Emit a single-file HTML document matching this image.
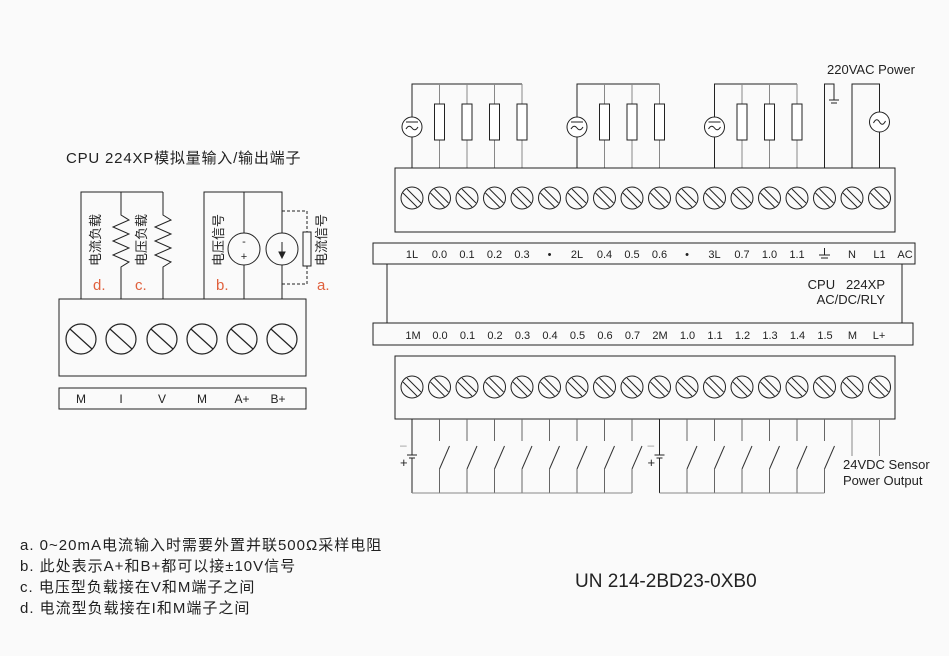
<!DOCTYPE html>
<html><head><meta charset="utf-8"><style>
html,body{margin:0;padding:0;background:#fafafa;}
svg{display:block;}
text{font-family:"Liberation Sans","Noto Sans CJK SC",sans-serif;fill:#222;}
</style></head><body>
<svg width="949" height="656" viewBox="0 0 949 656" xmlns="http://www.w3.org/2000/svg">
<defs>
<g id="sc"><circle r="11" fill="none" stroke="#222" stroke-width="1"/><line x1="-9" y1="-5" x2="5" y2="9" stroke="#222"/><line x1="-5" y1="-9" x2="9" y2="5" stroke="#222"/></g>
<g id="bsc"><circle r="15" fill="none" stroke="#222" stroke-width="1.2"/><line x1="-11" y1="-10" x2="11" y2="10" stroke="#222" stroke-width="1.2"/></g>
<g id="lamp"><circle r="10" fill="#fff" stroke="#222"/><line x1="-6" y1="-5" x2="6" y2="-5" stroke="#222"/><path d="M-6 2 Q-3 -3 0 1 Q3 5 6 0" fill="none" stroke="#222"/></g>
<g id="sw"><line x1="0" y1="0" x2="0" y2="22" stroke="#666"/><line x1="0" y1="50" x2="10" y2="27" stroke="#333"/><line x1="0" y1="50" x2="0" y2="74" stroke="#666"/></g>
<g id="bat"><line x1="0" y1="0" x2="0" y2="36" stroke="#222"/><line x1="-5" y1="36" x2="5" y2="36" stroke="#222"/><line x1="-3" y1="39" x2="3" y2="39" stroke="#222"/><line x1="0" y1="39" x2="0" y2="74" stroke="#222"/><text x="-12" y="30" font-size="12" style="fill:#999">–</text><text x="-12" y="48" font-size="13">+</text></g>
</defs>

<!-- LEFT analog diagram -->
<text x="66" y="163" font-size="15" letter-spacing="0.8">CPU 224XP模拟量输入/输出端子</text>
<g stroke="#222" fill="none" stroke-width="1">
<polyline points="81,299 81,192 163,192"/>
<polyline points="121,192 121,215 129,220 113,227 129,234 113,241 129,248 113,255 129,262 121,267 121,299"/>
<polyline points="163,192 163,215 171,220 155,227 171,234 155,241 171,248 155,255 171,262 163,267 163,299"/>
<polyline points="204,299 204,192 282,192 282,233"/>
<line x1="244" y1="192" x2="244" y2="233"/><line x1="244" y1="265" x2="244" y2="299"/>
<circle cx="244" cy="249" r="16"/><circle cx="282" cy="249" r="16"/>
<line x1="282" y1="265" x2="282" y2="299"/>
<line x1="282" y1="242" x2="282" y2="256"/><path d="M279 252 L282 258 L285 252 Z" fill="#222"/>
<polyline points="282,211 307,211 307,232" stroke-dasharray="3,2"/>
<polyline points="307,266 307,284 282,284" stroke-dasharray="3,2"/>
<rect x="303" y="232" width="8" height="34"/>
<rect x="59" y="299" width="247" height="77"/>
<rect x="59" y="388" width="247" height="21"/>
</g>
<text x="244" y="245" font-size="11" text-anchor="middle">-</text>
<text x="244" y="260" font-size="11" text-anchor="middle">+</text>
<g font-size="13">
<text transform="translate(100,266) rotate(-90)">电流负载</text>
<text transform="translate(146,266) rotate(-90)">电压负载</text>
<text transform="translate(223,266) rotate(-90)">电压信号</text>
<text transform="translate(326,266) rotate(-90)">电流信号</text>
</g>
<g font-size="15">
<text x="93" y="290" style="fill:#e0603c">d.</text><text x="135" y="290" style="fill:#e0603c">c.</text>
<text x="216" y="290" style="fill:#e0603c">b.</text><text x="317" y="290" style="fill:#e0603c">a.</text>
</g>
<use href="#bsc" x="81" y="339"/><use href="#bsc" x="121" y="339"/><use href="#bsc" x="162" y="339"/>
<use href="#bsc" x="202" y="339"/><use href="#bsc" x="242" y="339"/><use href="#bsc" x="282" y="339"/>
<g font-size="12" text-anchor="middle">
<text x="81" y="403">M</text><text x="121" y="403">I</text><text x="162" y="403">V</text>
<text x="202" y="403">M</text><text x="242" y="403">A+</text><text x="278" y="403">B+</text>
</g>

<!-- TOP wiring -->
<g stroke="#222" fill="none">
<polyline points="412,168 412,84 522,84"/>
<polyline points="577,168 577,84 659.5,84"/>
<polyline points="714.5,168 714.5,84 797,84"/>
<polyline points="824.5,168 824.5,84 834,84 834,100"/>
<line x1="829" y1="100" x2="839" y2="100"/><line x1="831" y1="103" x2="837" y2="103"/>
<polyline points="852,168 852,84 879.5,84 879.5,168"/>
</g>
<g stroke="#888">
<line x1="439.5" y1="84" x2="439.5" y2="168"/><line x1="467" y1="84" x2="467" y2="168"/><line x1="494.5" y1="84" x2="494.5" y2="168"/><line x1="522" y1="84" x2="522" y2="168"/>
<line x1="604.5" y1="84" x2="604.5" y2="168"/><line x1="632" y1="84" x2="632" y2="168"/><line x1="659.5" y1="84" x2="659.5" y2="168"/>
<line x1="742" y1="84" x2="742" y2="168"/><line x1="769.5" y1="84" x2="769.5" y2="168"/><line x1="797" y1="84" x2="797" y2="168"/>
</g>
<g fill="#fff" stroke="#222">
<rect x="434.5" y="104" width="10" height="36"/><rect x="462" y="104" width="10" height="36"/><rect x="489.5" y="104" width="10" height="36"/><rect x="517" y="104" width="10" height="36"/>
<rect x="599.5" y="104" width="10" height="36"/><rect x="627" y="104" width="10" height="36"/><rect x="654.5" y="104" width="10" height="36"/>
<rect x="737" y="104" width="10" height="36"/><rect x="764.5" y="104" width="10" height="36"/><rect x="792" y="104" width="10" height="36"/>
</g>
<use href="#lamp" x="412" y="127"/><use href="#lamp" x="577" y="127"/><use href="#lamp" x="714.5" y="127"/>
<circle cx="879.5" cy="122" r="10" fill="#fff" stroke="#222"/><path d="M873.5 123 Q876.5 117 879.5 122 Q882.5 127 885.5 121" fill="none" stroke="#222"/>
<text x="827" y="74" font-size="13">220VAC Power</text>

<!-- top block -->
<rect x="395" y="168" width="500" height="64" fill="none" stroke="#222"/>
<g>
<use href="#sc" x="412" y="198"/><use href="#sc" x="439.5" y="198"/><use href="#sc" x="467" y="198"/><use href="#sc" x="494.5" y="198"/><use href="#sc" x="522" y="198"/><use href="#sc" x="549.5" y="198"/><use href="#sc" x="577" y="198"/><use href="#sc" x="604.5" y="198"/><use href="#sc" x="632" y="198"/><use href="#sc" x="659.5" y="198"/><use href="#sc" x="687" y="198"/><use href="#sc" x="714.5" y="198"/><use href="#sc" x="742" y="198"/><use href="#sc" x="769.5" y="198"/><use href="#sc" x="797" y="198"/><use href="#sc" x="824.5" y="198"/><use href="#sc" x="852" y="198"/><use href="#sc" x="879.5" y="198"/>
</g>
<!-- label bars and body -->
<g stroke="#222" fill="none">
<rect x="373" y="243" width="542" height="21"/>
<line x1="387" y1="264" x2="387" y2="323"/><line x1="902" y1="264" x2="902" y2="323"/>
<rect x="373" y="323" width="540" height="22"/>
</g>
<g font-size="11" text-anchor="middle">
<text x="412" y="258">1L</text><text x="439.5" y="258">0.0</text><text x="467" y="258">0.1</text><text x="494.5" y="258">0.2</text><text x="522" y="258">0.3</text><text x="549.5" y="258">•</text><text x="577" y="258">2L</text><text x="604.5" y="258">0.4</text><text x="632" y="258">0.5</text><text x="659.5" y="258">0.6</text><text x="687" y="258">•</text><text x="714.5" y="258">3L</text><text x="742" y="258">0.7</text><text x="769.5" y="258">1.0</text><text x="797" y="258">1.1</text><text x="852" y="258">N</text><text x="879.5" y="258">L1</text><text x="905" y="258">AC</text>
<text x="413" y="339">1M</text><text x="440" y="339">0.0</text><text x="467.5" y="339">0.1</text><text x="495" y="339">0.2</text><text x="522.5" y="339">0.3</text><text x="550" y="339">0.4</text><text x="577.5" y="339">0.5</text><text x="605" y="339">0.6</text><text x="632.5" y="339">0.7</text><text x="660" y="339">2M</text><text x="687.5" y="339">1.0</text><text x="715" y="339">1.1</text><text x="742.5" y="339">1.2</text><text x="770" y="339">1.3</text><text x="797.5" y="339">1.4</text><text x="825" y="339">1.5</text><text x="852.5" y="339">M</text><text x="879" y="339">L+</text>
</g>
<g stroke="#222"><line x1="824.5" y1="248" x2="824.5" y2="255"/><line x1="819" y1="255" x2="830" y2="255"/><line x1="821" y1="258" x2="828" y2="258"/></g>
<text x="885" y="289" font-size="13" text-anchor="end" xml:space="preserve">CPU   224XP</text>
<text x="885" y="304" font-size="13" text-anchor="end">AC/DC/RLY</text>

<!-- bottom block -->
<rect x="395" y="356" width="500" height="63" fill="none" stroke="#222"/>
<g>
<use href="#sc" x="412" y="387"/><use href="#sc" x="439.5" y="387"/><use href="#sc" x="467" y="387"/><use href="#sc" x="494.5" y="387"/><use href="#sc" x="522" y="387"/><use href="#sc" x="549.5" y="387"/><use href="#sc" x="577" y="387"/><use href="#sc" x="604.5" y="387"/><use href="#sc" x="632" y="387"/><use href="#sc" x="659.5" y="387"/><use href="#sc" x="687" y="387"/><use href="#sc" x="714.5" y="387"/><use href="#sc" x="742" y="387"/><use href="#sc" x="769.5" y="387"/><use href="#sc" x="797" y="387"/><use href="#sc" x="824.5" y="387"/><use href="#sc" x="852" y="387"/><use href="#sc" x="879.5" y="387"/>
</g>
<use href="#bat" x="412" y="419"/><use href="#bat" x="659.5" y="419"/>
<use href="#sw" x="439.5" y="419"/><use href="#sw" x="467" y="419"/><use href="#sw" x="494.5" y="419"/><use href="#sw" x="522" y="419"/><use href="#sw" x="549.5" y="419"/><use href="#sw" x="577" y="419"/><use href="#sw" x="604.5" y="419"/><use href="#sw" x="632" y="419"/>
<use href="#sw" x="687" y="419"/><use href="#sw" x="714.5" y="419"/><use href="#sw" x="742" y="419"/><use href="#sw" x="769.5" y="419"/><use href="#sw" x="797" y="419"/><use href="#sw" x="824.5" y="419"/>
<g stroke="#888"><line x1="412" y1="493" x2="632" y2="493"/><line x1="659.5" y1="493" x2="824.5" y2="493"/><line x1="852" y1="419" x2="852" y2="456"/><line x1="879.5" y1="419" x2="879.5" y2="456"/></g>
<text x="843" y="469" font-size="13">24VDC Sensor</text>
<text x="843" y="485" font-size="13">Power Output</text>

<!-- notes -->
<g font-size="15" letter-spacing="1">
<text x="20" y="550">a. 0~20mA电流输入时需要外置并联500Ω采样电阻</text>
<text x="20" y="571">b. 此处表示A+和B+都可以接±10V信号</text>
<text x="20" y="592">c. 电压型负载接在V和M端子之间</text>
<text x="20" y="613">d. 电流型负载接在I和M端子之间</text>
</g>
<text x="575" y="587" font-size="19">UN 214-2BD23-0XB0</text>
</svg>
</body></html>
